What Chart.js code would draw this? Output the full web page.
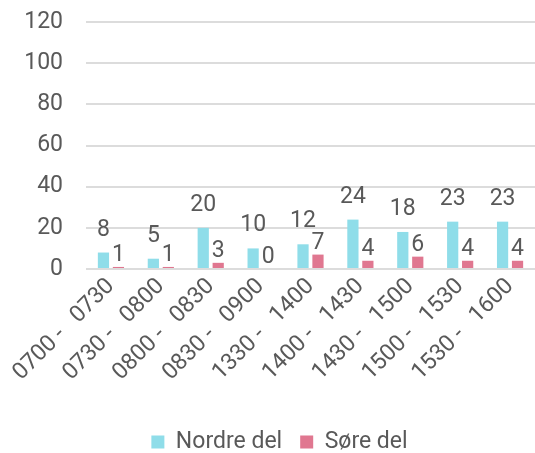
<!DOCTYPE html>
<html>
<head>
<meta charset="utf-8">
<script src="https://cdn.jsdelivr.net/npm/chart.js@4"></script>
<style>
  html, body { margin: 0; padding: 0; background: #ffffff; }
  #wrap { width: 535px; height: 453px; }
</style>
</head>
<body>
<div id="wrap"><canvas id="c" width="535" height="453"></canvas></div>
<script>
// Time intervals counted
const categories = ["0700 -   0730", "0730 -   0800", "0800 -   0830", "0830 -   0900", "1330 -   1400", "1400 -   1430", "1430 -   1500", "1500 -   1530", "1530 -   1600"];
// Counts per side
const nordreDel = [8, 5, 20, 10, 12, 24, 18, 23, 23];
const soreDel = [1, 1, 3, 0, 7, 4, 6, 4, 4];
const seriesNames = ["Nordre del", "Søre del"];
const yTicks = [0, 20, 40, 60, 80, 100, 120];

const textColor = "#595959";
const fontFamily = "Roboto, 'Noto Sans', sans-serif";
const fontSize = 23;

// Value labels above each bar
const valueLabels = {
  id: "valueLabels",
  afterDatasetsDraw(chart) {
    const ctx = chart.ctx;
    ctx.save();
    ctx.font = fontSize + "px " + fontFamily;
    ctx.fillStyle = textColor;
    ctx.textAlign = "center";
    ctx.textBaseline = "alphabetic";
    chart.data.datasets.forEach((ds, i) => {
      const meta = chart.getDatasetMeta(i);
      const lift = i === 0 ? 17 : 6;
      meta.data.forEach((bar, j) => {
        ctx.fillText(String(ds.data[j]), bar.x, bar.y - lift);
      });
    });
    ctx.restore();
  }
};

new Chart(document.getElementById("c"), {
  type: "bar",
  data: {
    labels: categories,
    datasets: [
      { label: seriesNames[0], data: nordreDel, backgroundColor: "#8fdde9", categoryPercentage: 0.6, barPercentage: 0.75 },
      { label: seriesNames[1], data: soreDel, backgroundColor: "#e07790", categoryPercentage: 0.6, barPercentage: 0.75 }
    ]
  },
  options: {
    responsive: false,
    animation: false,
    layout: { padding: { top: 22, left: 24, right: 0, bottom: -10.5 } },
    scales: {
      x: {
        grid: { display: false, drawTicks: false },
        border: { display: false },
        ticks: { color: textColor, font: { family: fontFamily, size: fontSize }, minRotation: 45, maxRotation: 45, padding: 4, autoSkip: false },
        afterFit(scale) { scale.paddingLeft = 0; scale.paddingRight = 0; scale.height = 143.5; }
      },
      y: {
        min: 0, max: 120,
        afterBuildTicks(axis) { axis.ticks = yTicks.map(v => ({ value: v })); },
        grid: { color: "#dcdcdc", lineWidth: 2, drawTicks: false },
        border: { display: false },
        ticks: { color: textColor, font: { family: fontFamily, size: fontSize }, padding: 23 },
        afterFit(scale) { scale.paddingTop = 0; scale.paddingBottom = 0; scale.width = 62; }
      }
    },
    plugins: {
      legend: {
        position: "bottom",
        labels: { color: textColor, font: { family: fontFamily, size: fontSize }, boxWidth: 13, boxHeight: 13, padding: 18 }
      },
      tooltip: { enabled: false }
    }
  },
  plugins: [valueLabels]
});
</script>
</body>
</html>
